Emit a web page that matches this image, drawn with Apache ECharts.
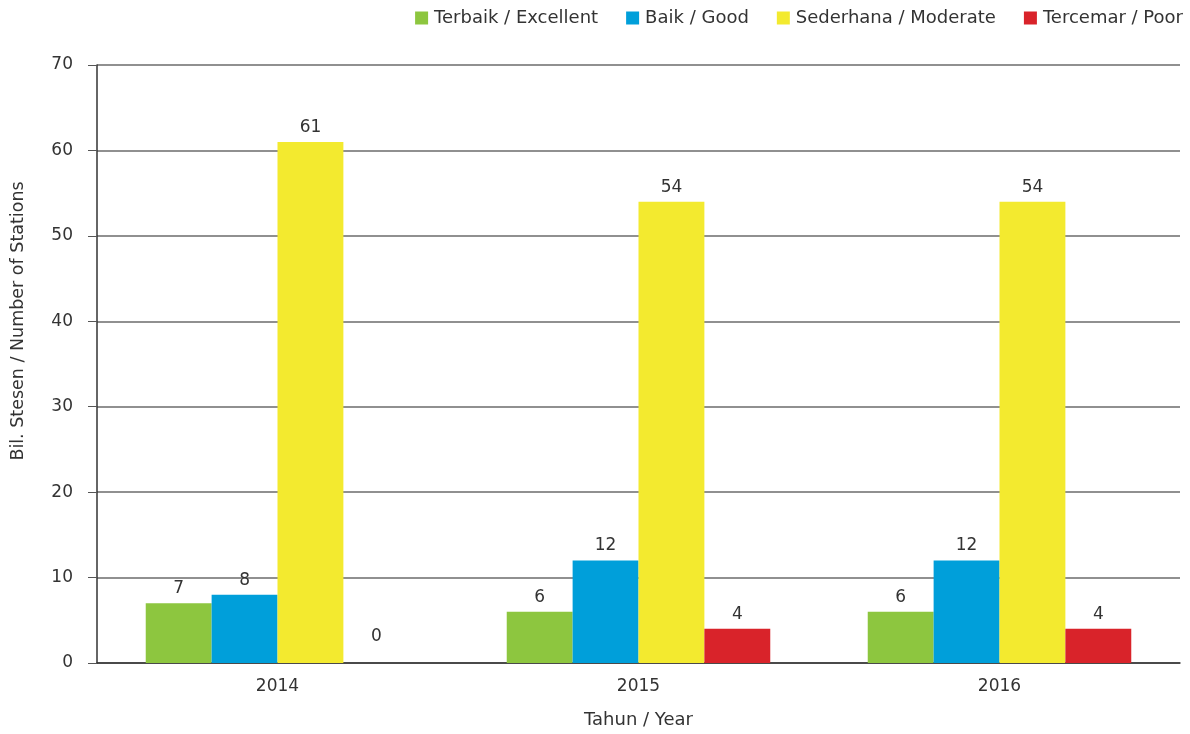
<!DOCTYPE html>
<html><head><meta charset="utf-8">
<script src="https://cdn.jsdelivr.net/npm/echarts@6/dist/echarts.min.js"></script>
<style>html,body{margin:0;padding:0;background:#fff}#c{width:1190px;height:734px}</style>
</head><body><div id="c"></div>
<script>
const years = ['2014', '2015', '2016'];
const seriesNames = ['Terbaik / Excellent', 'Baik / Good', 'Sederhana / Moderate', 'Tercemar / Poor'];
const excellent = [7, 6, 6];
const good = [8, 12, 12];
const moderate = [61, 54, 54];
const poor = [0, 4, 4];
const colors = ['#8dc63f', '#009fda', '#f3ea2f', '#d9232a'];
const values = [excellent, good, moderate, poor];
const font = '"DejaVu Sans", sans-serif';
const chart = echarts.init(document.getElementById('c'));
chart.setOption({
  animation: false,
  textStyle: {fontFamily: font},
  legend: {
    top: 4, right: 2, itemWidth: 13, itemHeight: 13, itemGap: 28,
    icon: 'rect',
    textStyle: {fontSize: 18, color: '#333', fontFamily: font, padding: [0, 0, 0, 1]},
    data: seriesNames
  },
  grid: {left: 97, right: 10, top: 65, bottom: 71, containLabel: false},
  xAxis: {
    type: 'category', data: years,
    name: 'Tahun / Year', nameLocation: 'middle', nameGap: 48,
    nameTextStyle: {fontSize: 18, color: '#333', fontFamily: font},
    axisLine: {lineStyle: {color: '#333', width: 1.5}},
    axisTick: {show: false},
    axisLabel: {fontSize: 17, color: '#333', margin: 15, fontFamily: font}
  },
  yAxis: {
    type: 'value', min: 0, max: 70, interval: 10,
    name: 'Bil. Stesen / Number of Stations', nameLocation: 'middle', nameGap: 70,
    nameTextStyle: {fontSize: 17.5, color: '#333', fontFamily: font, padding: [0, 0, 0, 86]},
    axisLine: {show: true, lineStyle: {color: '#333', width: 1.5}},
    axisTick: {show: true, length: 9, lineStyle: {color: '#555'}},
    splitLine: {lineStyle: {color: '#6b6b6b', width: 1.5}},
    axisLabel: {fontSize: 17, color: '#333', margin: 24, fontFamily: font}
  },
  series: seriesNames.map((n, i) => ({
    name: n, type: 'bar',
    data: values[i].map(v => v === 0 ? {value: v, label: {distance: 18}} : v),
    itemStyle: {color: colors[i]},
    barGap: '0%', barCategoryGap: '27%',
    label: {show: true, position: 'top', distance: 6, fontSize: 17, color: '#333', fontFamily: font}
  }))
});
</script></body></html>
